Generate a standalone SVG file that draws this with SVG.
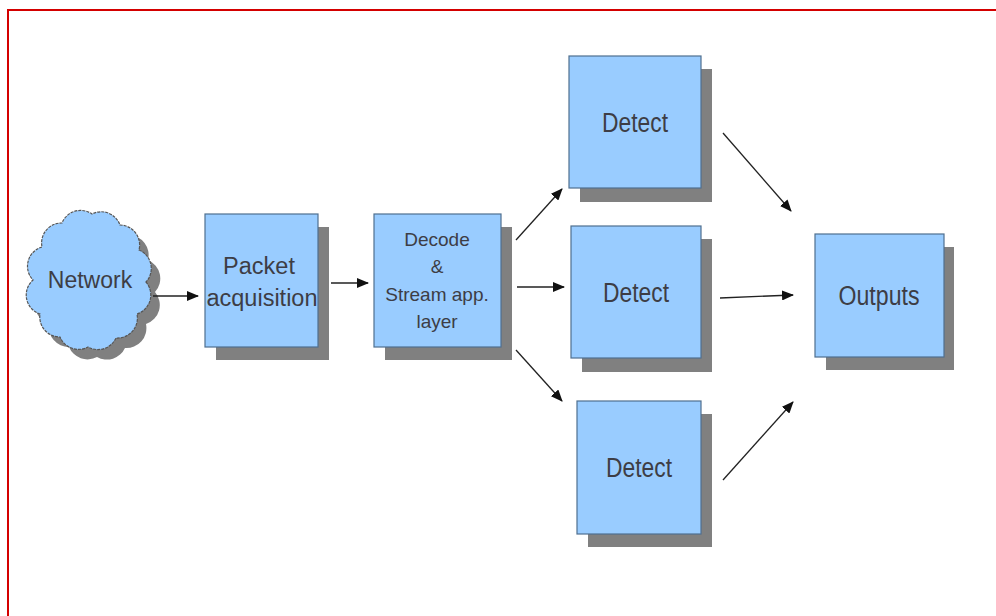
<svg xmlns="http://www.w3.org/2000/svg" width="996" height="616" viewBox="0 0 996 616">
<defs>
<style>
.box{fill:#99ccff;stroke:#4f6f8f;stroke-width:1.2}
.shadow{fill:#808080}
.lbl{font-family:"Liberation Sans",Arial,sans-serif;fill:#3d3d45;text-anchor:middle}
.conn{stroke:#222;stroke-width:1.3;fill:none;marker-end:url(#ah)}
</style>
<marker id="ah" viewBox="0 0 12 10" refX="11" refY="5" markerWidth="12" markerHeight="10" markerUnits="userSpaceOnUse" orient="auto">
<path d="M0,0 L12,5 L0,10 Z" fill="#111"/>
</marker>
<path id="cloud" d="M146,282 A20,20 0 0 1 137,314 A20,20 0 0 1 116,338 A20,20 0 0 1 88,347 A20,20 0 0 1 60,337 A20,20 0 0 1 40,314 A20,20 0 0 1 33,280 A20,20 0 0 1 42,247 A20,20 0 0 1 62,223 A20,20 0 0 1 92,214 A20,20 0 0 1 120,225 A20,20 0 0 1 139,250 A20,20 0 0 1 146,282 Z"/>
</defs>
<rect width="996" height="616" fill="#fff"/>
<path d="M8,616 L8,10 L996,10" fill="none" stroke="#d40000" stroke-width="2"/>

<g id="network">
<use href="#cloud" transform="translate(9,10)" class="shadow"/>
<use href="#cloud" fill="#99ccff" stroke="#555" stroke-width="1.2" stroke-dasharray="3,1"/>
<text class="lbl" x="90" y="288" font-size="23">Network</text>
</g>

<g id="packet">
<rect class="shadow" x="216" y="227" width="113" height="133"/>
<rect class="box" x="205" y="214" width="113" height="133"/>
<text class="lbl" x="259" y="274" font-size="23.5">Packet</text>
<text class="lbl" x="262" y="306" font-size="23.5" textLength="111" lengthAdjust="spacingAndGlyphs">acquisition</text>
</g>

<g id="decode">
<rect class="shadow" x="385" y="227" width="127" height="133"/>
<rect class="box" x="374" y="214" width="127" height="133"/>
<text class="lbl" x="437" y="246" font-size="19">Decode</text>
<text class="lbl" x="437" y="273" font-size="19">&amp;</text>
<text class="lbl" x="437" y="301" font-size="19">Stream app.</text>
<text class="lbl" x="437" y="328" font-size="19">layer</text>
</g>

<g id="detect1">
<rect class="shadow" x="580" y="69" width="132" height="133"/>
<rect class="box" x="569" y="56" width="132" height="132"/>
<text class="lbl" x="635" y="132" font-size="27" textLength="66" lengthAdjust="spacingAndGlyphs">Detect</text>
</g>

<g id="detect2">
<rect class="shadow" x="582" y="239" width="130" height="133"/>
<rect class="box" x="571" y="226" width="130" height="132"/>
<text class="lbl" x="636" y="302" font-size="27" textLength="66" lengthAdjust="spacingAndGlyphs">Detect</text>
</g>

<g id="detect3">
<rect class="shadow" x="588" y="414" width="124" height="133"/>
<rect class="box" x="577" y="401" width="124" height="133"/>
<text class="lbl" x="639" y="477" font-size="27" textLength="66" lengthAdjust="spacingAndGlyphs">Detect</text>
</g>

<g id="outputs">
<rect class="shadow" x="826" y="247" width="128" height="123"/>
<rect class="box" x="815" y="234" width="129" height="123"/>
<text class="lbl" x="879" y="305" font-size="27" textLength="81" lengthAdjust="spacingAndGlyphs">Outputs</text>
</g>

<g id="connectors">
<line class="conn" x1="153" y1="296" x2="198" y2="296"/>
<line class="conn" x1="331" y1="283" x2="368" y2="283"/>
<line class="conn" x1="516" y1="240" x2="562" y2="189"/>
<line class="conn" x1="517" y1="287" x2="564" y2="287"/>
<line class="conn" x1="516" y1="350" x2="562" y2="401"/>
<line class="conn" x1="723" y1="133" x2="791" y2="211"/>
<line class="conn" x1="720" y1="298" x2="793" y2="295"/>
<line class="conn" x1="723" y1="480" x2="793" y2="402"/>
</g>
</svg>
